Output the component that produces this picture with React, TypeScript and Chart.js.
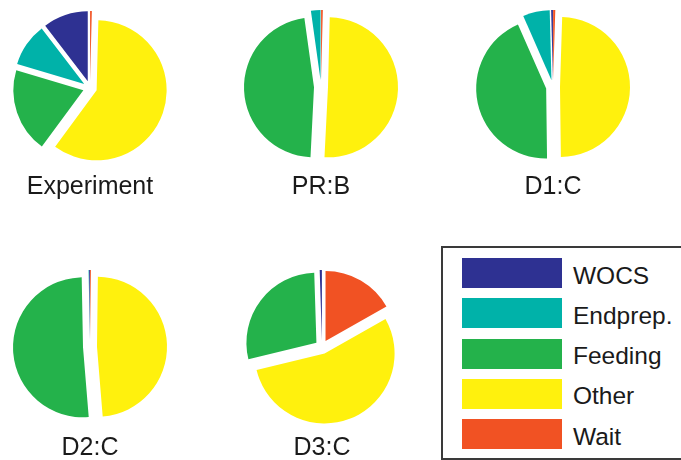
import React, { useEffect, useRef } from 'react';
import { Chart, registerables } from 'chart.js';

Chart.register(...registerables);

// Legend / category order
const categories = ['WOCS', 'Endprep.', 'Feeding', 'Other', 'Wait'];
const colors = ['#2E3192', '#00B2A9', '#24B24B', '#FFF10D', '#F15223'];
const pieTitles = ['Experiment', 'PR:B', 'D1:C', 'D2:C', 'D3:C'];

// Shares (%) per pie, in category order
const experimentValues = [10.4, 10.0, 19.5, 59.7, 0.4];
const prBValues = [0, 2.2, 47.0, 50.4, 0.4];
const d1CValues = [0.4, 6.2, 43.6, 49.3, 0.5];
const d2CValues = [0.2, 0.1, 51.0, 48.5, 0.2];
const d3CValues = [0.5, 0, 28.3, 54.4, 16.8];
const seriesValues = [experimentValues, prBValues, d1CValues, d2CValues, d3CValues];

// Slices are drawn clockwise from 12 o'clock in this category order
const drawOrder = [4, 3, 2, 1, 0];

const FONT = '"Liberation Sans", Arial, Helvetica, sans-serif';
const EXPLODE = 7;
const RADIUS = 70;
const CANVAS = 180;

const pieCenters = [
  [90, 88],
  [321, 87],
  [553, 87],
  [90, 347],
  [322, 347],
];
const labelBaselines = [194.5, 194.5, 194.5, 455, 455];

const explodePlugin = {
  id: 'explode',
  beforeDatasetDraw(chart: any, args: any) {
    args.meta.data.forEach((arc: any) => {
      if (arc.__exploded) return;
      const orig = arc.draw;
      arc.draw = function (ctx: CanvasRenderingContext2D, area: any) {
        const mid = (this.startAngle + this.endAngle) / 2;
        ctx.save();
        ctx.translate(Math.cos(mid) * EXPLODE, Math.sin(mid) * EXPLODE);
        orig.call(this, ctx, area);
        ctx.restore();
      };
      arc.__exploded = true;
    });
  },
};

function Pie({ values, cx, cy }: { values: number[]; cx: number; cy: number }) {
  const ref = useRef<HTMLCanvasElement>(null);
  useEffect(() => {
    const chart = new Chart(ref.current as HTMLCanvasElement, {
      type: 'pie',
      data: {
        labels: drawOrder.map((i) => categories[i]),
        datasets: [
          {
            data: drawOrder.map((i) => values[i]),
            backgroundColor: drawOrder.map((i) => colors[i]),
            borderWidth: 0,
          } as any,
        ],
      },
      options: {
        responsive: false,
        maintainAspectRatio: false,
        animation: false,
        radius: RADIUS,
        layout: { padding: 0 },
        events: [],
        plugins: {
          legend: { display: false },
          tooltip: { enabled: false },
        },
      } as any,
      plugins: [explodePlugin as any],
    });
    return () => chart.destroy();
  }, [values]);
  return (
    <canvas
      ref={ref}
      width={CANVAS}
      height={CANVAS}
      style={{
        position: 'absolute',
        left: cx - CANVAS / 2,
        top: cy - CANVAS / 2,
        width: CANVAS,
        height: CANVAS,
      }}
    />
  );
}

export default function App() {
  return (
    <div
      style={{
        position: 'absolute',
        left: 0,
        top: 0,
        width: 681,
        height: 460,
        overflow: 'hidden',
        background: '#fff',
        fontFamily: FONT,
      }}
    >
      {seriesValues.map((vals, k) => (
        <Pie key={k} values={vals} cx={pieCenters[k][0]} cy={pieCenters[k][1]} />
      ))}
      {pieTitles.map((t, k) => (
        <div
          key={t}
          style={{
            position: 'absolute',
            left: pieCenters[k][0] - 100,
            width: 200,
            top: labelBaselines[k] - 21.2,
            height: 25,
            lineHeight: '25px',
            fontSize: 25,
            textAlign: 'center',
            color: '#1a1a1a',
            whiteSpace: 'nowrap',
          }}
        >
          {t}
        </div>
      ))}
      <div
        style={{
          position: 'absolute',
          left: 441,
          top: 246,
          width: 260,
          height: 214,
          border: '2px solid #3a3a3a',
          boxSizing: 'border-box',
        }}
      />
      {categories.map((c, i) => (
        <React.Fragment key={c}>
          <div
            style={{
              position: 'absolute',
              left: 462,
              top: 258 + i * 40.3,
              width: 100,
              height: 30,
              background: colors[i],
            }}
          />
          <div
            style={{
              position: 'absolute',
              left: 573,
              top: 258 + i * 40.3 + 2.5,
              height: 30,
              lineHeight: '30px',
              fontSize: 24.5,
              color: '#1a1a1a',
              whiteSpace: 'nowrap',
            }}
          >
            {c}
          </div>
        </React.Fragment>
      ))}
    </div>
  );
}
